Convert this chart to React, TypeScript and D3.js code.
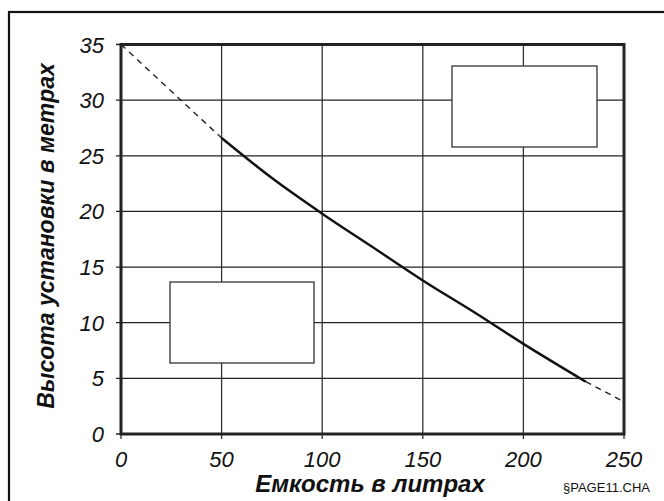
import React from "react";
import * as d3 from "d3";

const xTicks = [0, 50, 100, 150, 200, 250];
const yTicks = [0, 5, 10, 15, 20, 25, 30, 35];
const solidX = [50, 75, 100, 125, 150, 175, 200, 231];
const solidY = [26.6, 23.0, 19.8, 16.8, 13.8, 11.0, 8.1, 4.7];
const dashStartX = [0, 50];
const dashStartY = [35, 26.6];
const dashEndX = [231, 250];
const dashEndY = [4.7, 2.9];
const xTitle = "Емкость в литрах";
const yTitle = "Высота установки в метрах";
const footnote = "§PAGE11.CHA";

const W = 664, H = 501;
const L = 121, T = 44.5, R = 624, B = 434;
const FONT = "'Liberation Sans', Arial, sans-serif";

export default function App() {
  const x = d3.scaleLinear().domain([0, 250]).range([L, R]);
  const y = d3.scaleLinear().domain([0, 35]).range([B, T]);
  const line = d3.line<[number, number]>().x(d => x(d[0])).y(d => y(d[1])).curve(d3.curveMonotoneX);
  const zip = (a: number[], b: number[]) => a.map((v, i) => [v, b[i]] as [number, number]);

  return (
    <svg width={W} height={H} style={{ position: "absolute", left: 0, top: 0, background: "#fff" }}>
      <rect x={9} y={12} width={700} height={600} fill="#fff" stroke="#111" strokeWidth={2.2} />
      {xTicks.map(t => (
        <g key={"x" + t}>
          <line x1={x(t)} x2={x(t)} y1={T} y2={B + 5} stroke="#333" strokeWidth={1.3} />
          <text x={x(t)} y={467} textAnchor="middle" fontFamily={FONT} fontStyle="italic" fontSize={22} fill="#111">{t}</text>
        </g>
      ))}
      {yTicks.map(t => (
        <g key={"y" + t}>
          <line x1={L - 5} x2={R} y1={y(t)} y2={y(t)} stroke="#222" strokeWidth={1.3} />
          <text x={104} y={y(t) + 8} textAnchor="end" fontFamily={FONT} fontStyle="italic" fontSize={22} fill="#111">{t}</text>
        </g>
      ))}
      <path d={line(zip(dashStartX, dashStartY)) || ""} fill="none" stroke="#222" strokeWidth={1.4} strokeDasharray="6,5" />
      <path d={line(zip(dashEndX, dashEndY)) || ""} fill="none" stroke="#222" strokeWidth={1.4} strokeDasharray="6,5" />
      <path d={line(zip(solidX, solidY)) || ""} fill="none" stroke="#111" strokeWidth={2.4} />
      <rect x={L} y={T} width={R - L} height={B - T} fill="none" stroke="#222" strokeWidth={3} />
      <rect x={452} y={66} width={145} height={81} fill="#fff" stroke="#333" strokeWidth={1.3} />
      <rect x={170} y={282} width={144} height={81} fill="#fff" stroke="#333" strokeWidth={1.3} />
      <text x={370} y={492} textAnchor="middle" fontFamily={FONT} fontStyle="italic" fontWeight="bold" fontSize={24} fill="#111">{xTitle}</text>
      <text transform={`translate(54,236) rotate(-90)`} textAnchor="middle" fontFamily={FONT} fontStyle="italic" fontWeight="bold" fontSize={23} fill="#111">{yTitle}</text>
      <text x={563} y={492} fontFamily={FONT} fontSize={13} fill="#111">{footnote}</text>
    </svg>
  );
}
